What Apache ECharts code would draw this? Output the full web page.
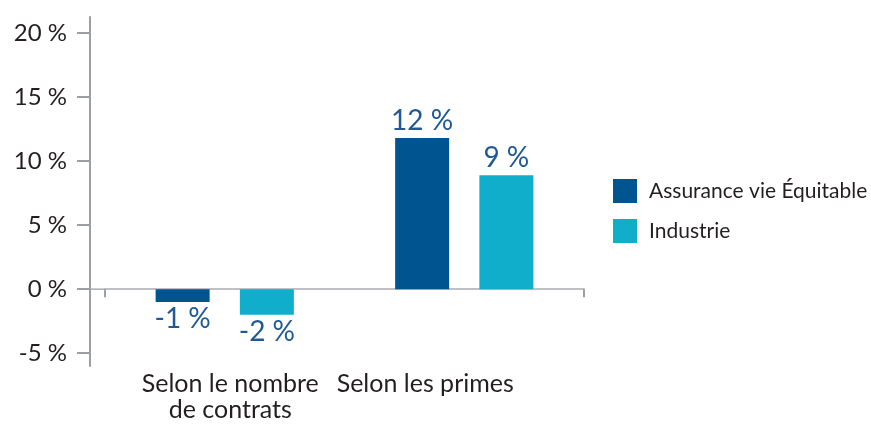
<!DOCTYPE html>
<html lang="fr">
<head>
    <meta charset="UTF-8">
    <title>Croissance</title>
    <script src="https://cdn.jsdelivr.net/npm/echarts@6/dist/echarts.min.js"></script>
    <style type="text/css">
        html, body { margin: 0; padding: 0; background: #fff; }
        #box { width: 871px; height: 427px; }
    </style>
</head>
<body>
    <div id="box"></div>
</body>
</html>
<script>
    var categories = ["Selon le nombre\nde contrats", "Selon les primes"];
    var seriesNames = ["Assurance vie Équitable", "Industrie"];
    var equitable = [-1, 11.8];
    var industrie = [-2, 8.9];
    var yTicks = [-5, 0, 5, 10, 15, 20];
    var colors = ["#00548f", "#11aecb"];

    var font = "Lato";
    var gridLeft = 105, yOffset = 15;
    var axisGrey = "#9ca0a4";
    var zeroGrey = "#a9acb0";
    var mychart = echarts.init(document.getElementById("box"));

    function barData(values) {
        return values.map(function (v) {
            return { value: v, label: { position: v < 0 ? "bottom" : "top" } };
        });
    }

    function makeSeries(name, values, color) {
        return {
            name: name,
            type: "bar",
            barWidth: 54,
            barGap: "56%",
            itemStyle: { color: color },
            label: {
                show: true,
                distance: 3,
                fontFamily: font,
                fontSize: 28,
                color: "#1f5a96",
                formatter: function (p) { return Math.round(p.value) + " %"; }
            },
            data: barData(values)
        };
    }

    mychart.setOption({
        animation: false,
        grid: { left: gridLeft, right: 287, top: 17, bottom: 61 },
        legend: {
            orient: "vertical",
            left: 613,
            top: 179,
            padding: 0,
            icon: "rect",
            itemWidth: 24,
            itemHeight: 24,
            itemGap: 16,
            textStyle: { fontFamily: font, fontSize: 21, color: "#231f20", padding: [0, 0, 0, 7] },
            data: seriesNames
        },
        xAxis: [{
            type: "category",
            data: categories,
            axisLine: { onZero: true, lineStyle: { color: zeroGrey, width: 1.5 } },
            axisTick: {
                show: true, length: 8,
                lineStyle: { color: axisGrey, width: 2 },
                interval: function (i) { return i > 0; }
            },
            axisLabel: { show: false }
        }, {
            type: "category",
            position: "bottom",
            data: [
                { value: categories[0], textStyle: { padding: [0, 0, 0, 11] } },
                { value: categories[1], textStyle: { padding: [0, 78, 0, 0] } }
            ],
            axisLine: { show: false },
            axisTick: { show: false },
            axisLabel: { fontFamily: font, fontSize: 25, lineHeight: 26, margin: 5, color: "#231f20" }
        }],
        yAxis: {
            type: "value",
            min: -6,
            max: 21.25,
            offset: yOffset,
            splitLine: { show: false },
            axisLine: { show: true, lineStyle: { color: axisGrey, width: 2 } },
            axisTick: { show: true, length: 13, customValues: yTicks, lineStyle: { color: axisGrey, width: 2 } },
            axisLabel: {
                customValues: yTicks,
                formatter: "{value} %",
                fontFamily: font,
                fontSize: 24,
                margin: 23,
                color: "#231f20"
            }
        },
        series: [
            makeSeries(seriesNames[0], equitable, colors[0]),
            makeSeries(seriesNames[1], industrie, colors[1])
        ]
    });

    // close the gap in the zero line between the offset y axis and the grid
    var zeroY = mychart.convertToPixel({ yAxisIndex: 0 }, 0);
    mychart.setOption({
        graphic: [{
            type: "line",
            shape: { x1: gridLeft - yOffset, y1: zeroY, x2: gridLeft, y2: zeroY },
            style: { stroke: zeroGrey, lineWidth: 1.5 }
        }]
    });
</script>
